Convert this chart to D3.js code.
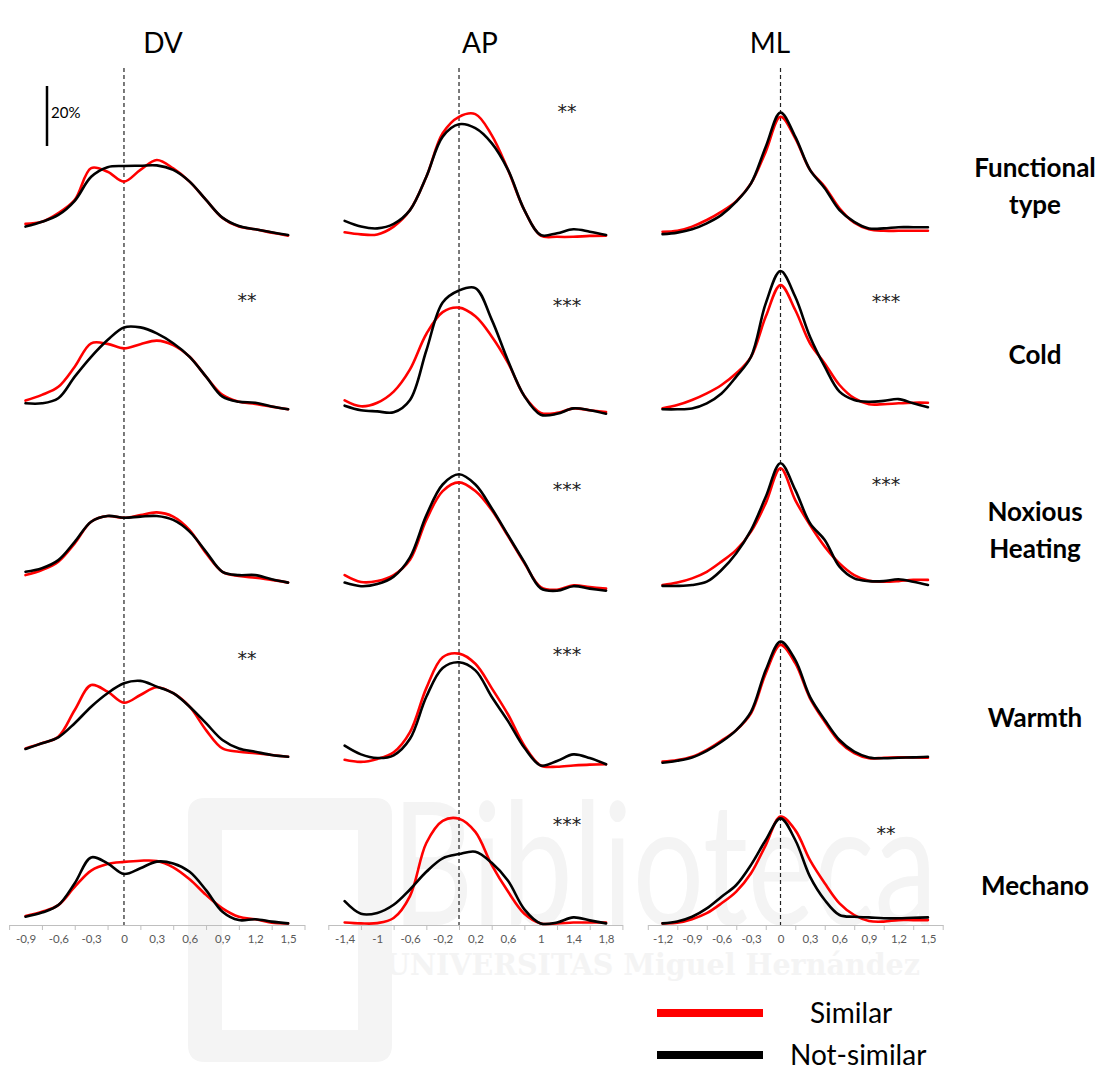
<!DOCTYPE html>
<html>
<head>
<meta charset="utf-8">
<script src="https://cdn.jsdelivr.net/npm/d3@7"></script>
<style>
  html, body { margin: 0; padding: 0; background: #fff; }
  svg { display: block; }
</style>
</head>
<body>
<svg id="chart" width="1107" height="1072"></svg>
<script>
// ---- Data: distribution (%) of positions along each axis ----
const rowNames = [["Functional", "type"], ["Cold"], ["Noxious", "Heating"], ["Warmth"], ["Mechano"]];
const columnNames = ["DV", "AP", "ML"];
const seriesNames = ["Similar", "Not-similar"];

const dvX = [-0.9, -0.75, -0.6, -0.45, -0.3, -0.15, 0, 0.15, 0.3, 0.45, 0.6, 0.75, 0.9, 1.05, 1.2, 1.35, 1.5];
const apX = [-1.4, -1.2, -1.0, -0.8, -0.6, -0.4, -0.2, 0, 0.2, 0.4, 0.6, 0.8, 1.0, 1.2, 1.4, 1.6, 1.8];
const mlX = [-1.2, -1.05, -0.9, -0.75, -0.6, -0.45, -0.3, -0.15, 0, 0.15, 0.3, 0.45, 0.6, 0.75, 0.9, 1.05, 1.2, 1.35, 1.5];

const dvTicks = [-0.9, -0.6, -0.3, 0, 0.3, 0.6, 0.9, 1.2, 1.5];
const dvTickLabels = ["-0,9", "-0,6", "-0,3", "0", "0,3", "0,6", "0,9", "1,2", "1,5"];
const apTicks = [-1.4, -1.0, -0.6, -0.2, 0.2, 0.6, 1.0, 1.4, 1.8];
const apTickLabels = ["-1,4", "-1", "-0,6", "-0,2", "0,2", "0,6", "1", "1,4", "1,8"];
const mlTicks = [-1.2, -0.9, -0.6, -0.3, 0, 0.3, 0.6, 0.9, 1.2, 1.5];
const mlTickLabels = ["-1,2", "-0,9", "-0,6", "-0,3", "0", "0,3", "0,6", "0,9", "1,2", "1,5"];

const dvSimilar = [
  [4.7, 5.4, 8.3, 12.7, 23.3, 22.1, 18.8, 22.7, 26.0, 23.2, 18.8, 12.7, 6.7, 3.8, 2.9, 1.8, 0.8],
  [4.8, 6.7, 9.4, 16.1, 23.9, 23.7, 22.2, 23.6, 24.8, 23.3, 19.4, 12.8, 6.7, 4.4, 3.7, 2.8, 1.9],
  [5.3, 7.0, 9.8, 15.9, 23.1, 25.0, 24.4, 25.3, 26.2, 24.8, 20.3, 12.6, 6.4, 5.0, 4.4, 3.7, 2.8],
  [6.2, 7.9, 10.1, 19.0, 27.3, 25.1, 21.4, 24.0, 26.6, 24.6, 20.1, 12.3, 6.2, 5.1, 4.6, 4.0, 3.4],
  [2.7, 4.1, 6.3, 12.4, 17.8, 20.0, 20.7, 21.1, 21.0, 18.9, 14.9, 9.7, 5.2, 2.4, 1.6, 0.4, 0.2]
];
const dvNotSimilar = [
  [3.8, 5.4, 7.7, 12.4, 20.4, 23.6, 24.0, 24.1, 24.2, 22.7, 18.8, 12.7, 6.8, 4.0, 2.9, 1.9, 1.0],
  [3.9, 3.9, 5.6, 12.8, 19.4, 25.0, 29.2, 29.2, 27.2, 23.9, 19.4, 12.8, 6.1, 4.4, 4.1, 2.8, 1.9],
  [6.4, 7.6, 10.3, 16.4, 23.1, 25.0, 24.4, 24.8, 25.0, 23.7, 19.8, 13.1, 6.4, 5.3, 5.3, 3.9, 2.8],
  [6.0, 7.9, 9.9, 14.6, 20.1, 24.6, 27.9, 28.7, 26.8, 24.6, 20.1, 14.6, 9.0, 6.2, 5.1, 4.0, 3.4],
  [2.4, 3.8, 6.3, 13.6, 22.2, 20.2, 16.7, 18.6, 20.8, 20.2, 17.4, 11.3, 4.1, 1.3, 1.6, 0.8, 0.2]
];

const apSimilar = [
  [1.9, 1.2, 1.2, 3.8, 9.3, 20.4, 34.9, 40.4, 41.3, 34.3, 22.7, 9.3, 0.8, 0.4, 0.4, 0.7, 0.8],
  [4.9, 2.9, 4.1, 7.8, 15.2, 27.0, 34.3, 35.8, 32.9, 26.2, 17.4, 6.3, 0.7, 0.7, 2.2, 1.6, 1.0],
  [5.3, 3.0, 3.3, 5.3, 10.4, 23.7, 33.3, 36.2, 33.3, 27.0, 18.3, 9.3, 1.3, 0.4, 1.9, 1.3, 0.8],
  [2.4, 1.7, 2.7, 4.9, 11.6, 26.3, 36.6, 37.8, 34.4, 26.3, 17.5, 7.1, 0.5, 0.1, 0.5, 0.8, 0.9],
  [0.5, 0.2, 0.3, 2.0, 9.3, 27.0, 34.4, 35.1, 30.7, 19.7, 10.8, 3.4, 0.2, 0.2, 0.5, 0.5, 0.5]
];
const apNotSimilar = [
  [5.7, 3.8, 3.2, 4.7, 9.3, 20.4, 33.8, 37.9, 36.6, 31.6, 22.7, 9.3, 1.0, 1.6, 2.9, 2.1, 1.0],
  [3.1, 1.6, 1.2, 0.9, 5.0, 21.5, 37.5, 41.5, 42.3, 31.8, 18.1, 6.3, 0.1, 0.4, 2.2, 1.6, 0.4],
  [2.8, 1.6, 2.3, 4.8, 11.2, 25.2, 35.5, 38.9, 35.5, 27.6, 18.6, 9.6, 0.9, 0.1, 1.6, 0.8, 0.1],
  [7.1, 4.2, 3.0, 3.9, 9.4, 23.4, 33.0, 34.9, 32.2, 23.4, 15.3, 6.4, 0.5, 2.0, 4.2, 3.0, 0.9],
  [7.6, 3.4, 3.7, 6.4, 11.5, 17.4, 21.9, 23.3, 24.1, 20.4, 14.4, 4.9, 0.2, 0.5, 2.2, 1.2, 0.2]
];

const mlSimilar = [
  [2.1, 2.4, 3.8, 6.0, 8.8, 12.3, 18.2, 28.8, 40.4, 33.2, 22.7, 17.1, 9.9, 5.1, 2.9, 2.4, 2.4, 2.4, 2.4],
  [2.2, 3.3, 5.0, 7.2, 10.0, 13.9, 19.4, 32.8, 43.3, 35.0, 23.9, 17.2, 10.0, 5.6, 3.6, 3.6, 3.9, 4.1, 4.1],
  [2.0, 2.8, 4.2, 6.4, 9.8, 13.7, 19.8, 29.3, 40.9, 30.3, 22.0, 14.8, 9.2, 5.3, 3.4, 3.1, 3.3, 3.7, 3.7],
  [1.8, 2.3, 3.4, 5.7, 8.8, 12.3, 17.9, 31.2, 40.7, 34.6, 22.9, 15.1, 8.4, 4.6, 2.9, 3.1, 3.2, 3.2, 3.1],
  [0.2, 0.4, 1.6, 3.6, 6.9, 10.8, 16.9, 26.3, 35.8, 31.3, 21.3, 13.6, 6.9, 3.0, 1.0, 0.8, 1.3, 1.3, 1.3]
];
const mlNotSimilar = [
  [1.3, 1.8, 2.9, 4.9, 7.7, 12.1, 18.2, 30.4, 41.8, 33.8, 22.7, 16.6, 9.3, 5.4, 3.2, 3.2, 3.6, 3.6, 3.6],
  [1.9, 1.9, 2.2, 3.9, 7.2, 12.8, 19.4, 37.2, 48.0, 39.4, 26.1, 16.1, 7.8, 5.0, 4.4, 4.7, 5.3, 3.9, 2.6],
  [1.7, 1.7, 2.0, 3.1, 7.0, 12.6, 20.3, 31.4, 42.6, 33.7, 22.6, 17.0, 8.1, 4.2, 3.3, 3.3, 3.9, 3.1, 2.0],
  [1.4, 2.1, 3.2, 5.4, 8.4, 12.3, 18.4, 32.3, 41.8, 35.7, 23.4, 15.7, 9.0, 5.1, 3.2, 2.9, 3.1, 3.2, 3.4],
  [0.2, 0.8, 2.4, 5.2, 9.1, 13.0, 19.7, 28.0, 35.2, 28.0, 15.8, 8.0, 3.0, 2.4, 2.2, 1.9, 1.9, 2.1, 2.2]
];

// significance marks per row
const dvStars = ["", "**", "", "**", ""];
const apStars = ["**", "***", "***", "***", "***"];
const mlStars = ["", "***", "***", "", "**"];

const scaleBarValue = 20;   // %

// ---- Layout ----
const svg = d3.select("#chart");
const FONT = "Lato, 'Open Sans', 'Liberation Sans', sans-serif";
const colors = { "Similar": "#ff0000", "Not-similar": "#000000" };

const rowBaselines = [238, 415, 591, 767, 924];
const pxPerPercent = 3;
const dashTop = 68, axisY = 925;

const columns = [
  { name: "DV", xs: dvX, sim: dvSimilar, non: dvNotSimilar, ticks: dvTicks, labels: dvTickLabels, step: 0.3,
    x: d3.scaleLinear().domain([-1.05, 1.65]).range([9.1, 304.5]), titleX: 163, stars: dvStars,
    starX: 247, starDy: [0, -122, 0, -116, 0] },
  { name: "AP", xs: apX, sim: apSimilar, non: apNotSimilar, ticks: apTicks, labels: apTickLabels, step: 0.4,
    x: d3.scaleLinear().domain([-1.6, 2.0]).range([328.3, 622.4]), titleX: 480, stars: apStars,
    starX: 567, starDy: [-134, -117, -109, -120, -107] },
  { name: "ML", xs: mlX, sim: mlSimilar, non: mlNotSimilar, ticks: mlTicks, labels: mlTickLabels, step: 0.3,
    x: d3.scaleLinear().domain([-1.35, 1.65]).range([647.8, 942.7]), titleX: 770, stars: mlStars,
    starX: 886, starDy: [0, -121, -114, 0, -98] }
];

// faint library watermark behind the plots
const wm = svg.append("g").attr("class", "watermark").attr("fill", "#f4f4f4").attr("stroke", "none");
wm.append("path")
  .attr("d", "M205,798 H375 Q392,798 392,815 V1045 Q392,1062 375,1062 H205 Q188,1062 188,1045 V815 Q188,798 205,798 Z " +
             "M222,830 V1030 H358 V830 Z")
  .attr("fill-rule", "evenodd");
wm.append("text").attr("x", 392).attr("y", 925)
  .attr("font-family", FONT).attr("font-size", 170).attr("textLength", 545).attr("lengthAdjust", "spacingAndGlyphs")
  .text("Biblioteca");
wm.append("text").attr("x", 385).attr("y", 975)
  .attr("font-family", "'DejaVu Serif', serif").attr("font-size", 30).attr("font-weight", "bold")
  .attr("textLength", 535).attr("lengthAdjust", "spacingAndGlyphs")
  .text("UNIVERSITAS Miguel Hernández");

// column titles
columns.forEach(c => {
  svg.append("text").attr("x", c.titleX).attr("y", 53)
    .attr("text-anchor", "middle").attr("font-family", FONT).attr("font-size", 28).attr("fill", "#000")
    .text(c.name);
});

// dashed zero lines
columns.forEach(c => {
  svg.append("line")
    .attr("x1", c.x(0)).attr("x2", c.x(0)).attr("y1", dashTop).attr("y2", axisY)
    .attr("stroke", "#222").attr("stroke-width", 1.2).attr("stroke-dasharray", "4,3");
});

// bottom axes
columns.forEach(c => {
  const g = svg.append("g").attr("transform", `translate(0,${axisY})`);
  const bounds = c.ticks.map(t => t - c.step / 2).concat([c.ticks[c.ticks.length - 1] + c.step / 2]);
  g.call(d3.axisBottom(c.x).tickValues(bounds).tickSize(5).tickSizeOuter(0).tickFormat(""));
  g.select(".domain").attr("stroke", "#bfbfbf").attr("stroke-width", 1.2);
  g.selectAll(".tick line").attr("stroke", "#bfbfbf");
  const gl = svg.append("g").attr("transform", `translate(0,${axisY})`);
  gl.call(d3.axisBottom(c.x).tickValues(c.ticks).tickSize(0).tickPadding(10)
    .tickFormat((d, i) => c.labels[i]));
  gl.select(".domain").remove();
  gl.selectAll(".tick text").attr("font-family", FONT).attr("font-size", 11.5).attr("fill", "#595959");
});

// curves
rowBaselines.forEach((base, r) => {
  const y = d3.scaleLinear().domain([0, 50]).range([base, base - 50 * pxPerPercent]);
  columns.forEach(c => {
    const line = d3.line().x((d, i) => c.x(c.xs[i])).y(d => y(d)).curve(d3.curveCatmullRom.alpha(0.5));
    [["Similar", c.sim[r]], ["Not-similar", c.non[r]]].forEach(([name, vals]) => {
      svg.append("path").datum(vals)
        .attr("d", line)
        .attr("fill", "none")
        .attr("stroke", colors[name])
        .attr("stroke-width", 2.6)
        .attr("stroke-linejoin", "round")
        .attr("stroke-linecap", "round");
    });
    if (c.stars[r]) {
      svg.append("text")
        .attr("x", c.starX).attr("y", base + c.starDy[r] + 14)
        .attr("text-anchor", "middle").attr("font-family", "'DejaVu Sans', sans-serif").attr("font-size", 19)
        .attr("letter-spacing", 0).attr("fill", "#222")
        .text(c.stars[r]);
    }
  });

  // row label
  const lines = rowNames[r];
  const centerY = [186, 355, 530, 718, 886][r];
  const lh = 37;
  lines.forEach((t, k) => {
    svg.append("text")
      .attr("x", 1035).attr("y", centerY + (k - (lines.length - 1) / 2) * lh)
      .attr("dy", "0.35em")
      .attr("text-anchor", "middle").attr("font-family", FONT).attr("font-weight", "bold")
      .attr("font-size", 26).attr("fill", "#000")
      .text(t);
  });
});

// vertical scale bar
const yBar = d3.scaleLinear().domain([0, 50]).range([146, 146 - 50 * pxPerPercent]);
svg.append("line").attr("x1", 47).attr("x2", 47).attr("y1", yBar(0)).attr("y2", yBar(scaleBarValue))
  .attr("stroke", "#000").attr("stroke-width", 2.5);
svg.append("text").attr("x", 51).attr("y", 113).attr("dy", "0.35em")
  .attr("font-family", FONT).attr("font-size", 15).attr("fill", "#000")
  .text(scaleBarValue + "%");

// legend
const legend = svg.append("g");
[["Similar", 1013, 810], ["Not-similar", 1055, 790]].forEach(([name, ly, tx]) => {
  legend.append("line").attr("x1", 657).attr("x2", 763).attr("y1", ly).attr("y2", ly)
    .attr("stroke", colors[name]).attr("stroke-width", 8);
  legend.append("text").attr("x", tx).attr("y", ly).attr("dy", "0.35em")
    .attr("font-family", FONT).attr("font-size", 28).attr("fill", "#000")
    .text(name);
});
</script>
</body>
</html>
